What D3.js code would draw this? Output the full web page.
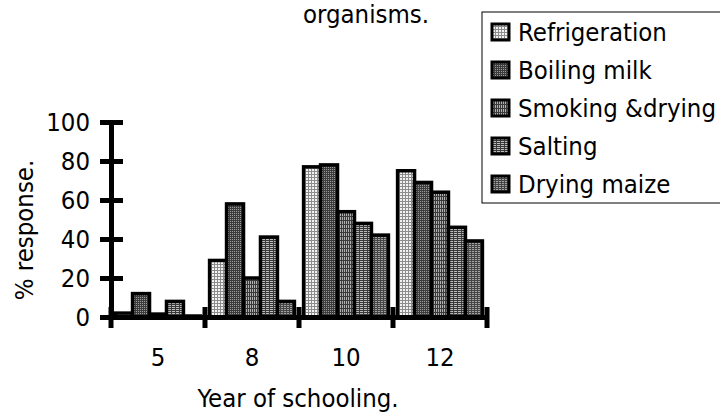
<!DOCTYPE html>
<html>
<head>
<meta charset="utf-8">
<script src="https://cdn.jsdelivr.net/npm/d3@7"></script>
<style>
  body { margin: 0; background: #fff; }
  svg text { font-family: "DejaVu Sans Condensed", "DejaVu Sans", sans-serif; font-stretch: condensed; }
</style>
</head>
<body>
<div id="chart"></div>
<script>
// chart data
var years = ["5", "8", "10", "12"];
var methods = ["Refrigeration", "Boiling milk", "Smoking &drying", "Salting", "Drying maize"];
var refrigeration = [2, 29, 77, 75];
var boilingMilk = [12, 58, 78, 69];
var smokingDrying = [1.5, 20, 54, 64];
var salting = [8, 41, 48, 46];
var dryingMaize = [0.5, 8, 42, 39];
var yTicks = [0, 20, 40, 60, 80, 100];

var seriesValues = [refrigeration, boilingMilk, smokingDrying, salting, dryingMaize];

var width = 720, height = 414;
var fontSize = 25.5;
var svg = d3.select("#chart").append("svg")
    .attr("width", width)
    .attr("height", height);

// hatch patterns, one per method
var defs = svg.append("defs");
var patternSpecs = [
    {id: "p0", bg: "#f2f2f2", col: "#8c8c8c", dx: 3, dy: 3},
    {id: "p1", bg: "#9a9a9a", col: "#3c3c3c", dx: 2, dy: 2},
    {id: "p2", bg: "#b0b0b0", col: "#3a3a3a", dx: 2, dy: 4},
    {id: "p3", bg: "#bdbdbd", col: "#3a3a3a", dx: 4, dy: 2},
    {id: "p4", bg: "#a4a4a4", col: "#454545", dx: 3, dy: 2}
];
patternSpecs.forEach(function(p) {
    var pat = defs.append("pattern")
        .attr("id", p.id)
        .attr("patternUnits", "userSpaceOnUse")
        .attr("width", p.dx).attr("height", p.dy);
    pat.append("rect").attr("width", p.dx).attr("height", p.dy).attr("fill", p.bg);
    pat.append("rect").attr("width", 1).attr("height", p.dy).attr("fill", p.col);
    pat.append("rect").attr("width", p.dx).attr("height", 1).attr("fill", p.col);
});

var plotLeft = 111, plotRight = 487, plotTop = 122, plotBottom = 317;

var x0 = d3.scaleBand().domain(years).range([plotLeft, plotRight]).padding(0);
var x1 = d3.scaleBand().domain(methods).range([0, x0.bandwidth()])
    .paddingInner(0).paddingOuter(0.27);
var y = d3.scaleLinear().domain([0, 100]).range([plotBottom, plotTop]);

// bars
var groups = svg.append("g").selectAll("g")
    .data(years)
    .enter().append("g")
    .attr("transform", function(d) { return "translate(" + x0(d) + ",0)"; });

groups.selectAll("rect")
    .data(function(d, i) {
        return methods.map(function(m, j) { return {method: m, idx: j, value: seriesValues[j][i]}; });
    })
    .enter().append("rect")
    .attr("x", function(d) { return x1(d.method); })
    .attr("y", function(d) { return y(d.value); })
    .attr("width", x1.bandwidth())
    .attr("height", function(d) { return plotBottom - y(d.value); })
    .attr("fill", function(d) { return "url(#p" + d.idx + ")"; })
    .attr("stroke", "#000")
    .attr("stroke-width", 3.5);

// y axis
var yAxis = svg.append("g")
    .attr("transform", "translate(" + plotLeft + ",0)")
    .call(d3.axisLeft(y).tickValues(yTicks).tickSize(11).tickPadding(10));
yAxis.select(".domain").attr("stroke-width", 5);
yAxis.selectAll(".tick line").attr("x1", 12).attr("stroke-width", 5);
yAxis.selectAll("text").attr("font-size", fontSize).attr("fill", "#000")
    .attr("font-family", null);

// x axis
var xAxis = svg.append("g")
    .attr("transform", "translate(0," + plotBottom + ")")
    .call(d3.axisBottom(x0).tickSize(0).tickPadding(31));
xAxis.select(".domain").attr("stroke-width", 5);
xAxis.selectAll("text").attr("font-size", fontSize).attr("fill", "#000")
    .attr("font-family", null);

// boundary ticks between year groups
var bounds = years.map(function(d) { return x0(d); }).concat([x0(years[years.length - 1]) + x0.bandwidth()]);
svg.append("g").selectAll("line")
    .data(bounds)
    .enter().append("line")
    .attr("x1", function(d) { return d; })
    .attr("x2", function(d) { return d; })
    .attr("y1", plotBottom - 10)
    .attr("y2", plotBottom + 11)
    .attr("stroke", "#000")
    .attr("stroke-width", 5);

// axis titles
svg.append("text")
    .attr("transform", "translate(33,230) rotate(-90)")
    .attr("text-anchor", "middle")
    .attr("font-size", fontSize)
    .text("% response.");

svg.append("text")
    .attr("x", 298).attr("y", 407)
    .attr("text-anchor", "middle")
    .attr("font-size", fontSize)
    .text("Year of schooling.");

// title (only last line visible)
svg.append("text")
    .attr("x", 366).attr("y", 23)
    .attr("text-anchor", "middle")
    .attr("font-size", fontSize)
    .text("organisms.");

// legend
var legend = svg.append("g");
legend.append("rect")
    .attr("x", 482).attr("y", 12)
    .attr("width", 260).attr("height", 191)
    .attr("fill", "#fff")
    .attr("stroke", "#000")
    .attr("stroke-width", 1);

var items = legend.selectAll("g.item")
    .data(methods)
    .enter().append("g")
    .attr("class", "item")
    .attr("transform", function(d, i) { return "translate(0," + (32 + i * 38) + ")"; });

items.append("rect")
    .attr("x", 492).attr("y", -8)
    .attr("width", 17).attr("height", 16)
    .attr("fill", function(d, i) { return "url(#p" + i + ")"; })
    .attr("stroke", "#000")
    .attr("stroke-width", 3);

items.append("text")
    .attr("x", 518).attr("y", 9)
    .attr("font-size", fontSize)
    .text(function(d) { return d; });
</script>
</body>
</html>
